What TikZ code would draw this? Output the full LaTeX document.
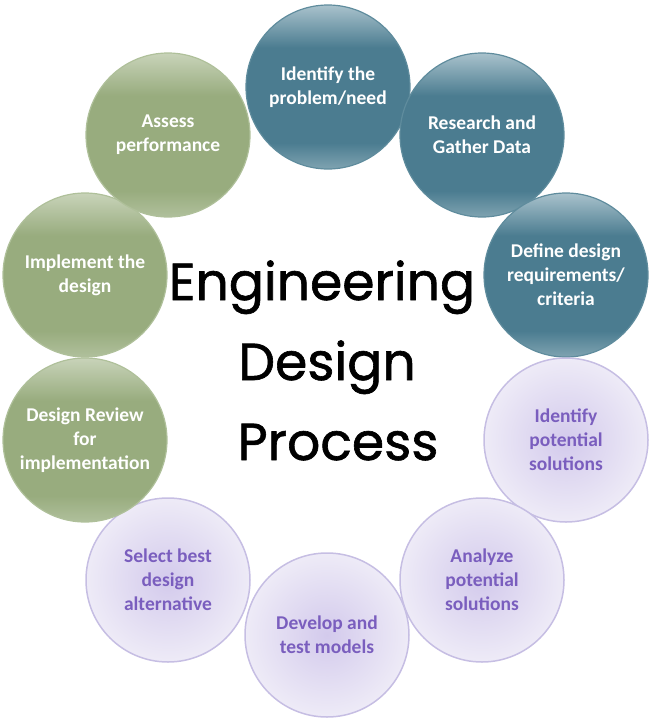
\documentclass[tikz,border=0pt]{standalone}
\usepackage{fontspec}
\setmainfont{Carlito}
\newfontfamily\titlefont[FakeBold=1.2]{Poppins}
\definecolor{tealM}{HTML}{4B7C90}
\definecolor{tealL}{HTML}{A9C2CC}
\definecolor{tealB}{HTML}{7FA3B1}
\definecolor{tealE}{HTML}{5F8C9D}
\definecolor{greenM}{HTML}{98AC7E}
\definecolor{greenL}{HTML}{C8D3B9}
\definecolor{greenB}{HTML}{B0C09C}
\definecolor{greenE}{HTML}{AFC09A}
\definecolor{lavC}{HTML}{D3CAEC}
\definecolor{lavO}{HTML}{EEEBF7}
\definecolor{lavE}{HTML}{C6BEE3}
\definecolor{lavT}{HTML}{7A5EBE}
\pgfdeclareverticalshading{tealshade}{100bp}{color(0bp)=(tealB); color(25bp)=(tealB); color(33bp)=(tealM); color(62bp)=(tealM); color(75bp)=(tealL); color(100bp)=(tealL)}
\pgfdeclareverticalshading{greenshade}{100bp}{color(0bp)=(greenB); color(25bp)=(greenB); color(33bp)=(greenM); color(62bp)=(greenM); color(75bp)=(greenL); color(100bp)=(greenL)}
\tikzset{
  stage/.style={circle, minimum size=164pt, inner sep=0pt, align=center,
    font=\fontsize{19.5}{24}\selectfont\bfseries},
  tealc/.style={stage, draw=tealE, line width=1.2pt, shading=tealshade, text=white},
  greenc/.style={stage, draw=greenE, line width=1.2pt, shading=greenshade, text=white},
  lavc/.style={stage, draw=lavE, line width=1.5pt, inner color=lavC, outer color=lavO, text=lavT},
  titletext/.style={font=\titlefont\fontsize{52}{80}\selectfont, inner sep=0pt}
}
\begin{document}
\begin{tikzpicture}[x=1pt,y=-1pt]
\useasboundingbox (0,0) rectangle (652,720);
\node[tealc] (s1) at (328,87) {Identify the\\problem/need};
\node[tealc] (s2) at (482,135) {Research and\\Gather Data};
\node[tealc] (s3) at (566,275) {Define design\\requirements/\\criteria};
\node[lavc] (s4) at (566,440) {Identify\\potential\\solutions};
\node[lavc] (s5) at (482,580) {Analyze\\potential\\solutions};
\node[lavc] (s6) at (327,635) {Develop and\\test models};
\node[lavc] (s7) at (168,580) {Select best\\design\\alternative};
\node[greenc] (s8) at (85,440) {Design Review\\for\\implementation};
\node[greenc] (s9) at (85,275) {Implement the\\design};
\node[greenc] (s10) at (168,135) {Assess\\performance};
\node[titletext, anchor=base] (t1) at (322,300) {Engineering};
\node[titletext, anchor=base] (t2) at (327,380) {Design};
\node[titletext, anchor=base] (t3) at (338,460) {Process};
\end{tikzpicture}
\end{document}
